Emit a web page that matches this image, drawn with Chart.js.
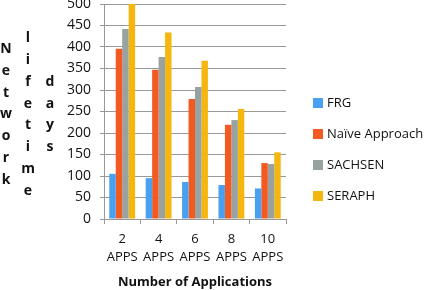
<!DOCTYPE html>
<html>
<head>
<meta charset="utf-8">
<script src="https://cdn.jsdelivr.net/npm/chart.js@4.4.0/dist/chart.umd.min.js"></script>
<style>
html,body{margin:0;padding:0;background:#fff;}
#wrap{position:relative;width:427px;height:290px;}
</style>
</head>
<body>
<div id="wrap"><canvas id="c" width="427" height="290"></canvas></div>
<script>
const categories = [['2','APPS'],['4','APPS'],['6','APPS'],['8','APPS'],['10','APPS']];
const frg = [105, 95, 86, 79, 71];
const naive = [396, 347, 279, 219, 130];
const sachsen = [442, 377, 307, 230, 128];
const seraph = [500, 434, 368, 256, 155];
const seriesNames = ['FRG', 'Naïve Approach', 'SACHSEN', 'SERAPH'];
const yTitleWords = ['Network', 'lifetime', 'days'];
const xTitle = 'Number of Applications';

const colors = ['#4aa0f0', '#f25a22', '#98a3a1', '#f5b60f'];
const FONT = '"Open Sans", "Liberation Sans", sans-serif';

const yTitlePlugin = {
  id: 'yTitleLetters',
  afterDraw(chart) {
    const ctx = chart.ctx;
    const xs = [6, 28, 50];
    const cy = 114.5;
    const step = 21.8;
    ctx.save();
    ctx.font = 'bold 14px ' + FONT;
    ctx.fillStyle = '#111';
    ctx.textAlign = 'center';
    ctx.textBaseline = 'middle';
    yTitleWords.forEach((w, i) => {
      const n = w.length;
      for (let k = 0; k < n; k++) {
        const y = cy + (k - (n - 1) / 2) * step;
        ctx.fillText(w[k], xs[i], y);
      }
    });
    ctx.restore();
  }
};

const legendPlugin = {
  id: 'customLegend',
  afterDraw(chart) {
    const ctx = chart.ctx;
    ctx.save();
    ctx.font = '13px ' + FONT;
    ctx.textBaseline = 'middle';
    ctx.textAlign = 'left';
    chart.data.datasets.forEach((ds, i) => {
      const y = 103 + i * 31;
      ctx.fillStyle = colors[i];
      ctx.fillRect(313, y - 5, 10, 10);
      ctx.fillStyle = '#111';
      ctx.fillText(ds.label, 327, y);
    });
    ctx.restore();
  }
};

new Chart(document.getElementById('c'), {
  type: 'bar',
  data: {
    labels: categories,
    datasets: [
      { label: seriesNames[0], data: frg, backgroundColor: colors[0] },
      { label: seriesNames[1], data: naive, backgroundColor: colors[1] },
      { label: seriesNames[2], data: sachsen, backgroundColor: colors[2] },
      { label: seriesNames[3], data: seraph, backgroundColor: colors[3] }
    ]
  },
  options: {
    responsive: false,
    animation: false,
    devicePixelRatio: 1,
    layout: { padding: { left: 60, right: 141, top: 4, bottom: 0 } },
    datasets: { bar: { barPercentage: 1.0, categoryPercentage: 0.71, borderWidth: 0 } },
    plugins: {
      legend: { display: false },
      tooltip: { enabled: false },
      title: { display: false }
    },
    scales: {
      x: {
        grid: { display: true, drawOnChartArea: false, drawTicks: true, tickLength: 5, color: '#999', offset: true },
        border: { display: true, color: '#999', width: 1 },
        ticks: { color: '#111', font: { family: FONT, size: 13, lineHeight: 1.42 }, padding: 6, maxRotation: 0, autoSkip: false },
        title: { display: true, text: xTitle, color: '#111', font: { family: FONT, size: 13, weight: 'bold', lineHeight: 1.2 }, padding: { top: 2, bottom: 0 } },
        afterFit(scale) { scale.height = 71; scale.paddingLeft = 0; scale.paddingRight = 0; }
      },
      y: {
        min: 0, max: 500,
        ticks: { stepSize: 50, color: '#111', font: { family: FONT, size: 14 }, padding: 9 },
        grid: { color: '#999', lineWidth: 1, tickLength: 4, drawTicks: true },
        border: { display: true, color: '#999', width: 1 },
        afterFit(scale) { scale.width = 44; scale.paddingTop = 0; scale.paddingBottom = 0; }
      }
    }
  },
  plugins: [yTitlePlugin, legendPlugin]
});
</script>
</body>
</html>
